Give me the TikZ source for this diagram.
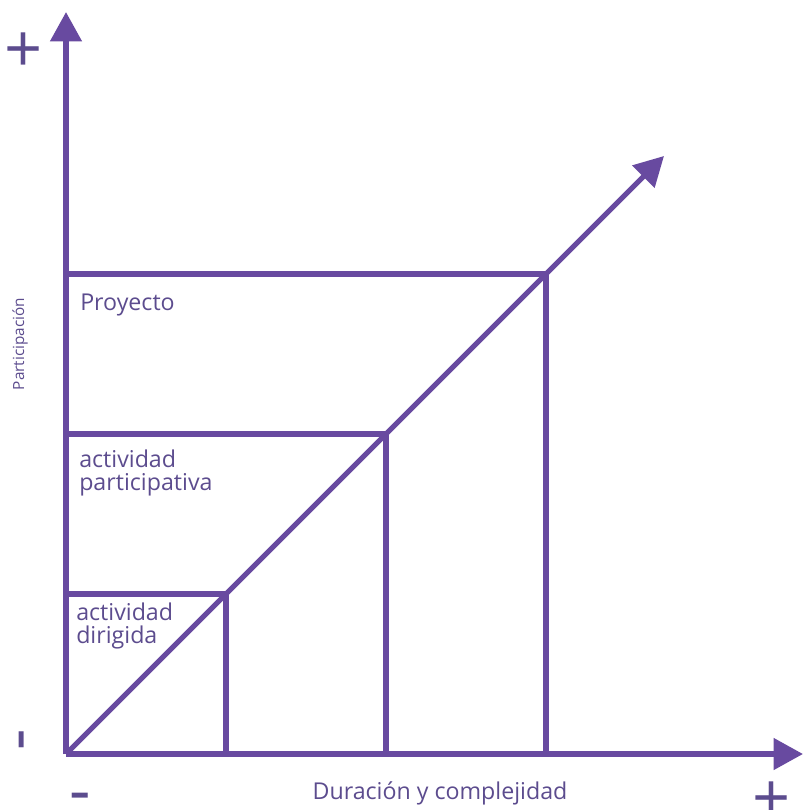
\documentclass[tikz,border=0pt]{standalone}
\usepackage{fontspec}
\setmainfont{Open Sans}
\usepackage{tikz}
\usetikzlibrary{arrows.meta,positioning,calc}
\definecolor{lila}{RGB}{104,74,160}
\definecolor{lilatext}{RGB}{92,76,142}

\begin{document}
\begin{tikzpicture}[x=0.75pt,y=-0.75pt]
  \useasboundingbox (0,0) rectangle (804,810);
  \tikzset{axisline/.style={draw=lila, line width=4.1pt, -{Triangle[length=22pt,width=23pt]}},
           boxline/.style={draw=lila, line width=4pt},
           label/.style={text=lilatext, inner sep=0pt, align=left, font=\fontsize{17.4}{17.2}\selectfont},
           sign/.style={text=lilatext, inner sep=0pt, font=\fontsize{50}{50}\selectfont, text depth=0pt},
           plussign/.style={sign, text height=36pt},
           minussign/.style={sign, text height=25pt}}

  \coordinate (O) at (66,754);
  \coordinate (Ytip) at (66,12);
  \coordinate (Xtip) at (803,754);
  \coordinate (Dtip) at (664,156);

  % corners of the three steps
  \coordinate (C1) at ($(O)+(160,-160)$);
  \coordinate (C2) at ($(O)+(320,-320)$);
  \coordinate (C3) at ($(O)+(480,-480)$);
  \coordinate (H1) at (O |- C1);
  \coordinate (H2) at (O |- C2);
  \coordinate (H3) at (O |- C3);
  \coordinate (F1) at (C1 |- O);
  \coordinate (F2) at (C2 |- O);
  \coordinate (F3) at (C3 |- O);

  \path [boxline]
  (H1) edge (C1) (C1) edge (F1)
  (H2) edge (C2) (C2) edge (F2)
  (H3) edge (C3) (C3) edge (F3);

  \draw [axisline] (O) -- (Ytip);
  \draw [axisline] (O) -- (Xtip);
  \draw [axisline, line width=3.8pt] (O) -- (Dtip);

  \node (proy) [label, anchor=base west] at (80,310) {Proyecto};
  \node (part) [label, anchor=base west] at (79,490) {actividad\\participativa};
  \node (dirig) [label, anchor=base west] at (76,643) {actividad\\dirigida};

  \node (ylab) [label, font=\fontsize{11.5}{11.5}\selectfont, rotate=90] at (20,344) {Participación};
  \node (xlab) [label] at (440,793) {Duración y complejidad};

  \node (yplus) [plussign] at (24,48) {+};
  \node (yminus) [minussign, rotate=90] at (23,740) {-};
  \node (xminus) [minussign] at (80,797) {-};
  \node (xplus) [plussign] at (772,797) {+};
\end{tikzpicture}
\end{document}
